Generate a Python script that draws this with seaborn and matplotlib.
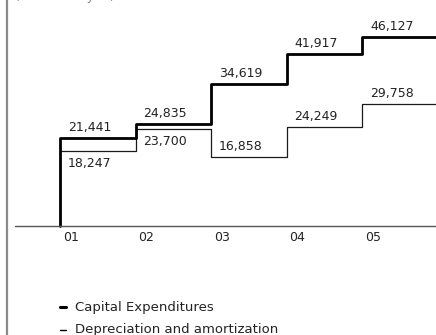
import matplotlib
matplotlib.use("Agg")
import matplotlib.pyplot as plt
import matplotlib.lines as mlines
import seaborn as sns
import pandas as pd

years = ["01", "02", "03", "04", "05"]
capex = [21441, 24835, 34619, 41917, 46127]
depreciation = [18247, 23700, 16858, 24249, 29758]
series_names = ["Capital Expenditures", "Depreciation and amortization"]
unit_label = "(Millions of yen)"

sns.set_theme(style="white")
plt.rcParams["font.family"] = ["DejaVu Sans"]

W, H = 436, 335
fig = plt.figure(figsize=(W / 100, H / 100), dpi=100)
ax = fig.add_axes([0, 0, 1, 1])

# pixel geometry of the plotting area
x0_px, step_px = 60, 75.5
base_px = 226
units_per_px = 243.9
ax.set_xlim(-x0_px / step_px, (W - x0_px) / step_px)
ax.set_ylim(-(H - base_px) * units_per_px, base_px * units_per_px)
ax.axis("off")

pos = list(range(len(years)))
# step series: capex rises from the baseline, both run on past the last year
cap_df = pd.DataFrame({"x": [0] + pos + [len(years)],
                       "y": [0] + capex + [capex[-1]]})
dep_df = pd.DataFrame({"x": pos + [len(years)],
                       "y": depreciation + [depreciation[-1]]})

sns.lineplot(data=dep_df, x="x", y="y", ax=ax, color="#1a1a1a", lw=0.9,
             drawstyle="steps-post", sort=False, estimator=None)
sns.lineplot(data=cap_df, x="x", y="y", ax=ax, color="black", lw=2.0,
             drawstyle="steps-post", sort=False, estimator=None)

# baseline
ax.plot([15 / step_px - x0_px / step_px, 10], [0, 0], color="#555555", lw=1.0)

txt_kw = dict(fontsize=9, color="#222222")
label_dx = 8 / step_px

# value labels (above the step, except where noted)
dep_below = {0, 1}
for i in pos:
    ax.annotate(f"{capex[i]:,}", (i + label_dx, capex[i]), xytext=(0, 7.5),
                textcoords="offset points", ha="left", va="center", **txt_kw)
    dy = -9 if i in dep_below else 7.5
    ax.annotate(f"{depreciation[i]:,}", (i + label_dx, depreciation[i]),
                xytext=(0, dy), textcoords="offset points",
                ha="left", va="center", **txt_kw)

# year labels under the baseline
for i, yr in enumerate(years):
    ax.annotate(yr, (i + 11 / step_px, 0), xytext=(0, -8.5),
                textcoords="offset points", ha="center", va="center", **txt_kw)

# left rule
fig.add_artist(mlines.Line2D([7 / W, 7 / W], [0, 1], color="#8a8a8a", lw=1.6))

# unit caption, running off the top edge
fig.text(15 / W, 1 + 0.3 / H, unit_label, ha="left", va="baseline",
         fontsize=9, color="#888888")

# legend
leg_y = [1 - 307 / H, 1 - 330 / H]
for k, (name, lw) in enumerate(zip(series_names, [2.2, 1.0])):
    fig.add_artist(mlines.Line2D([60 / W, 66 / W], [leg_y[k], leg_y[k]],
                                 color="black", lw=lw))
    fig.text(75 / W, leg_y[k], name, ha="left", va="center",
             fontsize=9.5, color="#222222")

fig.savefig("out.png", dpi=100)
